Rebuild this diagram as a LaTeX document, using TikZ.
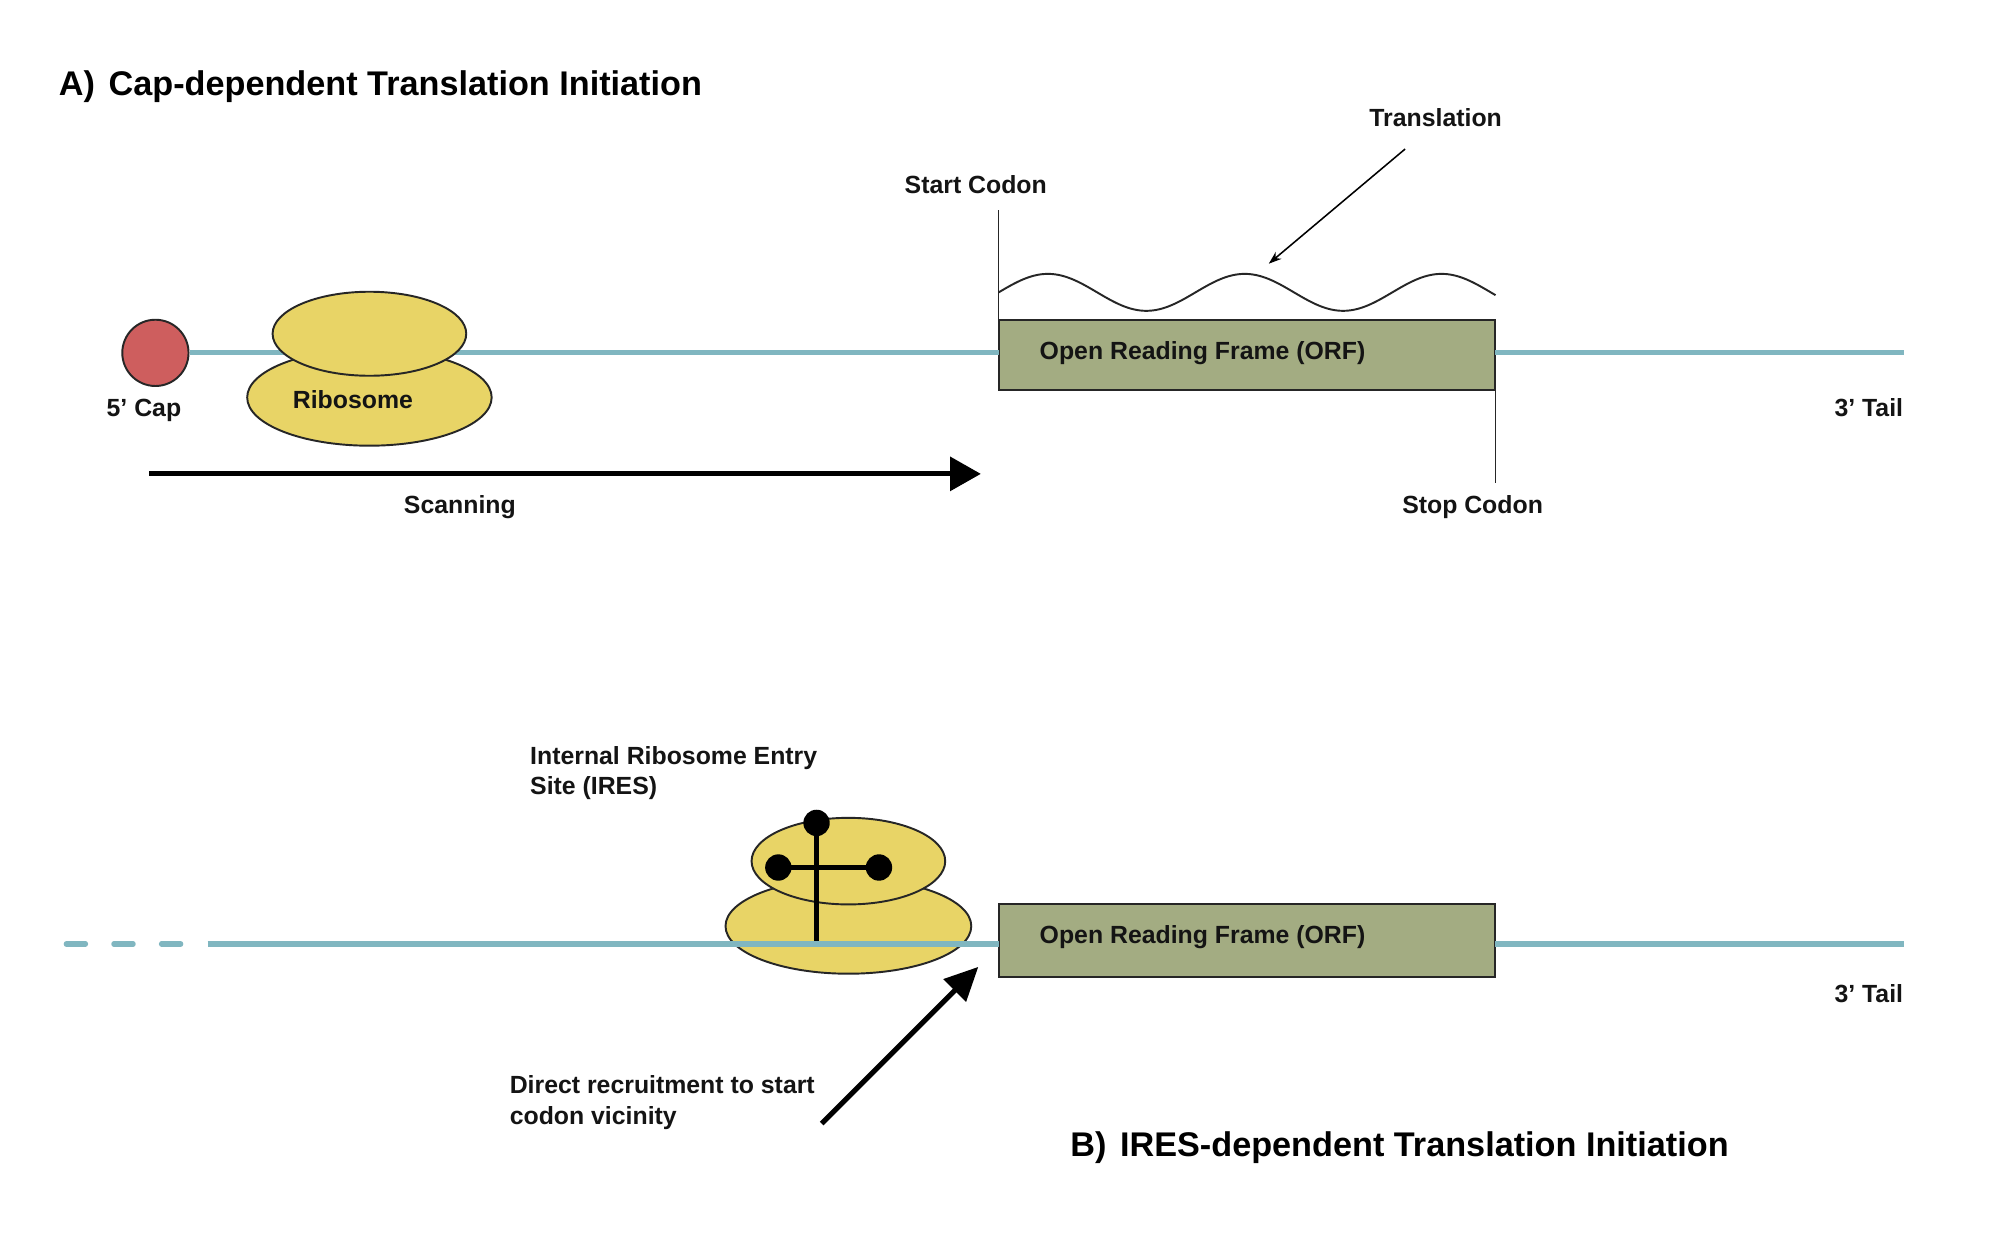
\documentclass[tikz,border=0pt]{standalone}
\usepackage{fontspec}
\setmainfont{Liberation Sans}
\usetikzlibrary{arrows.meta,shapes.geometric}
\definecolor{mrna}{RGB}{128,182,192}
\definecolor{capred}{RGB}{206,94,94}
\definecolor{ribo}{RGB}{232,212,102}
\definecolor{orfgreen}{RGB}{163,172,130}
\tikzset{
  lbl/.style={font=\fontsize{19.3}{24}\selectfont\bfseries, inner sep=0pt, text=black!92},
  ttl/.style={font=\fontsize{26.6}{30}\selectfont\bfseries, inner sep=0pt, anchor=base west},
  rna/.style={draw=mrna, line width=4pt},
  orfbox/.style={draw=black!85, fill=orfgreen, line width=1.6pt, minimum width=386pt, inner sep=0pt, outer sep=0pt},
  riboshape/.style={ellipse, draw=black!85, fill=ribo, line width=1.5pt, inner sep=0pt},
  bigarrow/.style={line width=4pt, -{Triangle[length=24pt,width=26pt]}},
  dotnode/.style={circle, fill=black, minimum size=20.5pt, inner sep=0pt},
}
\begin{document}
\begin{tikzpicture}[x=0.99pt,y=-0.99pt]
\useasboundingbox (0,0) rectangle (1567.68,974.75);
\fill[white] (0,0) rectangle (1567.68,974.75);

% ---------- A ----------
\node[ttl] (titleA) at (46,75) {A)\hspace{0.4em}Cap-dependent Translation Initiation};

\node[circle, draw=black!85, fill=capred, line width=1.5pt, minimum size=51.5pt, inner sep=0pt] (cap) at (122,277) {};
\node[orfbox, anchor=north west, minimum height=54.5pt] (orfA) at (784,251) {};
\node[lbl, anchor=base west] (orfAtxt) at (816,282) {Open Reading Frame (ORF)};
\coordinate (endA) at (1495,277);
\draw[rna] (cap.east) -- (orfA.west |- cap.east);
\draw[rna] (orfA.east |- endA) -- (endA);

\node[riboshape, minimum width=190pt, minimum height=75pt] (riboAlow) at (290,312) {};
\node[riboshape, minimum width=150.5pt, minimum height=65.3pt] (riboAup) at (290,262) {};
\node[lbl, anchor=base] (riboAtxt) at (277,321) {Ribosome};
\node[lbl, anchor=base] (capTxt) at (113,327) {5’ Cap};

\coordinate (scanStart) at (117,372);
\coordinate (scanEnd) at (770,372);
\draw[bigarrow] (scanStart) -- (scanEnd);
\node[lbl, anchor=base] (scanTxt) at (361,403) {Scanning};

\node[lbl, anchor=base] (startTxt) at (766,152) {Start Codon};
\coordinate (startTop) at (784,165);
\draw[line width=1.2pt, black!85] (orfA.north west |- startTop) -- (orfA.north west);

\node[lbl, anchor=base] (stopTxt) at (1156,403) {Stop Codon};
\coordinate (stopBot) at (1174,379);
\draw[line width=1.2pt, black!85] (orfA.south east) -- (orfA.south east |- stopBot);

\node[lbl, anchor=base] (tailA) at (1467,327) {3’ Tail};

\draw[line width=1.5pt, black!85] plot[domain=0:390, samples=240, smooth] ({784+\x},{229.5-14.5*sin(\x/154.5*360)});
\node[lbl, anchor=base] (transTxt) at (1127,99) {Translation};
\coordinate (transStart) at (1103,117);
\coordinate (transEnd) at (996,207);
\draw[line width=1.2pt, -{Stealth[length=10pt,width=7pt]}] (transStart) -- (transEnd);

% ---------- B ----------
\node[lbl, anchor=base west, align=left] (iresTxt) at (416,624) {Internal Ribosome Entry\\Site (IRES)};

\node[riboshape, minimum width=191pt, minimum height=74pt] (riboBlow) at (666,727) {};
\node[riboshape, minimum width=150.5pt, minimum height=67.3pt] (riboBup) at (666,676) {};
\node[dotnode] (dotTop) at (641,646) {};
\node[dotnode] (dotL) at (611,681) {};
\node[dotnode] (dotR) at (690,681) {};
\coordinate (stickBot) at (641,739);
\draw[line width=3.6pt] (dotTop.center) -- (stickBot);
\draw[line width=3.6pt] (dotL.center) -- (dotR.center);

\node[orfbox, anchor=north west, minimum height=56.4pt] (orfB) at (784,710) {};
\node[lbl, anchor=base west] (orfBtxt) at (816,741) {Open Reading Frame (ORF)};
\coordinate (dashStart) at (52,741);
\coordinate (solidStart) at (163,741);
\coordinate (endB) at (1495,741);
\draw[rna, line cap=round, dash pattern=on 15pt off 22pt] (dashStart) -- (solidStart);
\draw[rna] (solidStart) -- (orfB.west |- solidStart);
\draw[rna] (orfB.east |- endB) -- (endB);
\node[lbl, anchor=base] (tailB) at (1467,787) {3’ Tail};

\coordinate (dirStart) at (645,882);
\coordinate (dirEnd) at (768,759);
\draw[line width=4pt, -{Triangle[length=26pt,width=24pt]}] (dirStart) -- (dirEnd);
\node[lbl, anchor=base west, align=left] (dirTxt) at (400,883) {Direct recruitment to start\\codon vicinity};

\node[ttl] (titleB) at (840,908) {B)\hspace{0.4em}IRES-dependent Translation Initiation};
\end{tikzpicture}
\end{document}
